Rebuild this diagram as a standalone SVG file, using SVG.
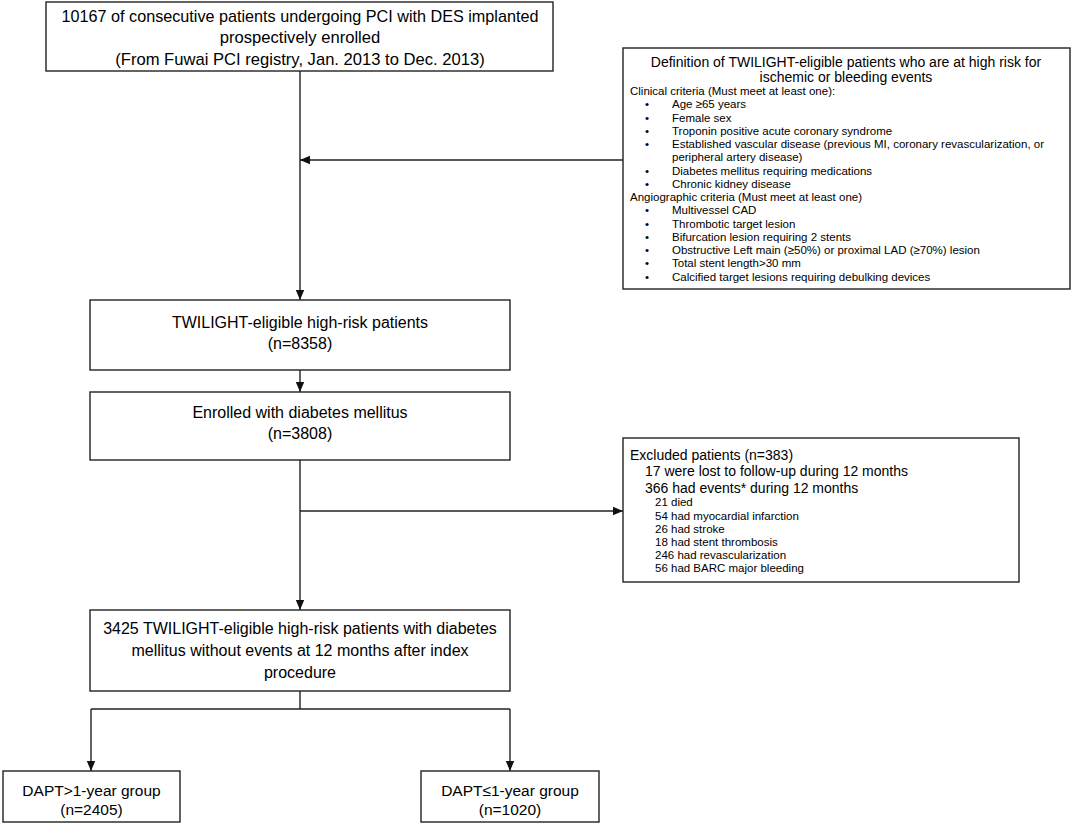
<svg xmlns="http://www.w3.org/2000/svg" width="1074" height="833" viewBox="0 0 1074 833">
<defs>
<marker id="ah" viewBox="0 0 10 10" refX="10" refY="5" markerWidth="10" markerHeight="10" markerUnits="userSpaceOnUse" orient="auto">
<path d="M0,0.8 L10,5 L0,9.2 Z" fill="#111"/>
</marker>
<style>
rect{fill:#fff;stroke:#222;stroke-width:1.4}
text{font-family:"Liberation Sans",Arial,sans-serif;fill:#000}
.c{text-anchor:middle;font-size:16px}
.c2{text-anchor:middle;font-size:16.6px}
.d{text-anchor:middle;font-size:15.5px}
.t{text-anchor:middle;font-size:14px}
.s{font-size:11.5px}
.m{font-size:14px}
.con line,.con path{stroke:#222;stroke-width:1.4;fill:none}
</style>
</defs>
<rect x="0" y="0" width="1074" height="833" style="fill:#fff;stroke:none"/>
<g id="connectors" class="con">
<line x1="300" y1="71" x2="300" y2="300" marker-end="url(#ah)"/>
<line x1="623" y1="160" x2="300" y2="160" marker-end="url(#ah)"/>
<line x1="300" y1="370" x2="300" y2="392" marker-end="url(#ah)"/>
<line x1="300" y1="460" x2="300" y2="610" marker-end="url(#ah)"/>
<line x1="300" y1="511" x2="623" y2="511" marker-end="url(#ah)"/>
<path d="M300,691 V709"/>
<path d="M91,709 H510"/>
<line x1="91" y1="709" x2="91" y2="771" marker-end="url(#ah)"/>
<line x1="510" y1="709" x2="510" y2="771" marker-end="url(#ah)"/>
</g>
<g id="node-registry">
<rect x="46" y="2" width="507" height="69"/>
<text class="c" x="300" y="22" style="font-size:16.2px">10167 of consecutive patients undergoing PCI with DES implanted</text>
<text class="c2" x="300" y="43">prospectively enrolled</text>
<text class="c2" x="300" y="65">(From Fuwai PCI registry, Jan. 2013 to Dec. 2013)</text>
</g>
<g id="node-definition">
<rect x="623" y="48" width="447" height="241"/>
<text class="t" x="846" y="67">Definition of TWILIGHT-eligible patients who are at high risk for</text>
<text class="t" x="846" y="82">ischemic or bleeding events</text>
<text class="s" x="630" y="95">Clinical criteria (Must meet at least one):</text>
<text class="s" x="645" y="108.3">•</text><text class="s" x="672" y="108.3">Age ≥65 years</text>
<text class="s" x="645" y="121.5">•</text><text class="s" x="672" y="121.5">Female sex</text>
<text class="s" x="645" y="134.8">•</text><text class="s" x="672" y="134.8">Troponin positive acute coronary syndrome</text>
<text class="s" x="645" y="148">•</text><text class="s" x="672" y="148">Established vascular disease (previous MI, coronary revascularization, or</text>
<text class="s" x="672" y="161.3">peripheral artery disease)</text>
<text class="s" x="645" y="174.6">•</text><text class="s" x="672" y="174.6">Diabetes mellitus requiring medications</text>
<text class="s" x="645" y="187.8">•</text><text class="s" x="672" y="187.8">Chronic kidney disease</text>
<text class="s" x="630" y="201">Angiographic criteria (Must meet at least one)</text>
<text class="s" x="645" y="214.4">•</text><text class="s" x="672" y="214.4">Multivessel CAD</text>
<text class="s" x="645" y="227.6">•</text><text class="s" x="672" y="227.6">Thrombotic target lesion</text>
<text class="s" x="645" y="240.9">•</text><text class="s" x="672" y="240.9">Bifurcation lesion requiring 2 stents</text>
<text class="s" x="645" y="254.2">•</text><text class="s" x="672" y="254.2">Obstructive Left main (≥50%) or proximal LAD (≥70%) lesion</text>
<text class="s" x="645" y="267.4">•</text><text class="s" x="672" y="267.4">Total stent length&gt;30 mm</text>
<text class="s" x="645" y="280.7">•</text><text class="s" x="672" y="280.7">Calcified target lesions requiring debulking devices</text>
</g>
<g id="node-twilight">
<rect x="90" y="300" width="420" height="70"/>
<text class="c" x="300" y="328">TWILIGHT-eligible high-risk patients</text>
<text class="c" x="300" y="349">(n=8358)</text>
</g>
<g id="node-diabetes">
<rect x="90" y="392" width="420" height="68"/>
<text class="c" x="300" y="418">Enrolled with diabetes mellitus</text>
<text class="c" x="300" y="439">(n=3808)</text>
</g>
<g id="node-excluded">
<rect x="623" y="438" width="396" height="144"/>
<text class="m" x="630" y="460">Excluded patients (n=383)</text>
<text class="m" x="645" y="476">17 were lost to follow-up during 12 months</text>
<text class="m" x="645" y="493">366 had events* during 12 months</text>
<text class="s" x="655" y="506">21 died</text>
<text class="s" x="655" y="520">54 had myocardial infarction</text>
<text class="s" x="655" y="533">26 had stroke</text>
<text class="s" x="655" y="546">18 had stent thrombosis</text>
<text class="s" x="655" y="559">246 had revascularization</text>
<text class="s" x="655" y="572">56 had BARC major bleeding</text>
</g>
<g id="node-final">
<rect x="90" y="610" width="420" height="81"/>
<text class="c" x="300" y="634">3425 TWILIGHT-eligible high-risk patients with diabetes</text>
<text class="c" x="300" y="656">mellitus without events at 12 months after index</text>
<text class="c" x="300" y="678">procedure</text>
</g>
<g id="node-dapt-long">
<rect x="3" y="771" width="177" height="51"/>
<text class="d" x="91.5" y="796">DAPT&gt;1-year group</text>
<text class="d" x="91.5" y="815">(n=2405)</text>
</g>
<g id="node-dapt-short">
<rect x="421" y="771" width="178" height="51"/>
<text class="d" x="510" y="796">DAPT≤1-year group</text>
<text class="d" x="510" y="815">(n=1020)</text>
</g>
</svg>
